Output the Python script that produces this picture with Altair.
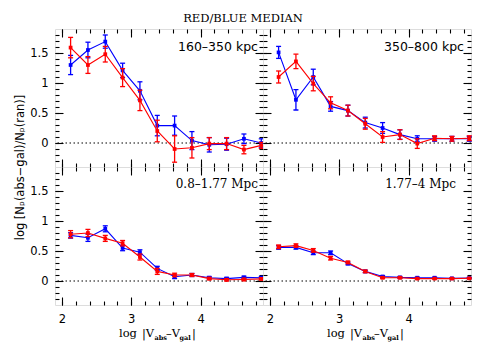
import altair as alt
import pandas as pd

# ---------------- data ----------------
X = [2.125, 2.375, 2.625, 2.875, 3.125, 3.375, 3.625, 3.875, 4.125, 4.375, 4.625, 4.875]

LABELS = ["160–350 kpc", "350–800 kpc", "0.8–1.77 Mpc", "1.77–4 Mpc"]

blue_160 = [1.30, 1.55, 1.69, 1.21, 0.87, 0.29, 0.29, 0.04, -0.03, -0.02, 0.07, 0.00]
blue_160_err = [0.16, 0.13, 0.11, 0.12, 0.15, 0.17, 0.16, 0.15, 0.12, 0.10, 0.08, 0.07]
red_160 = [1.59, 1.30, 1.48, 1.09, 0.71, 0.20, -0.10, -0.08, -0.01, -0.01, -0.11, -0.04]
red_160_err = [0.17, 0.14, 0.13, 0.15, 0.17, 0.18, 0.22, 0.17, 0.10, 0.10, 0.07, 0.05]

blue_350 = [1.51, 0.72, 1.10, 0.61, 0.54, 0.34, 0.25, 0.14, 0.07, 0.07, 0.07, 0.07]
blue_350_err = [0.10, 0.17, 0.13, 0.08, 0.09, 0.09, 0.09, 0.08, 0.05, 0.04, 0.04, 0.04]
red_350 = [1.10, 1.36, 0.99, 0.67, 0.54, 0.32, 0.10, 0.14, -0.01, 0.08, 0.07, 0.08]
red_350_err = [0.10, 0.12, 0.12, 0.10, 0.09, 0.09, 0.09, 0.08, 0.08, 0.04, 0.04, 0.04]

blue_08 = [0.76, 0.72, 0.87, 0.55, 0.48, 0.21, 0.07, 0.10, 0.055, 0.04, 0.06, 0.055]
blue_08_err = [0.045, 0.06, 0.05, 0.045, 0.04, 0.035, 0.03, 0.025, 0.02, 0.02, 0.02, 0.02]
red_08 = [0.78, 0.80, 0.71, 0.63, 0.40, 0.16, 0.10, 0.10, 0.04, 0.02, 0.025, 0.035]
red_08_err = [0.06, 0.06, 0.05, 0.045, 0.05, 0.05, 0.03, 0.025, 0.02, 0.02, 0.02, 0.02]

blue_177 = [0.56, 0.56, 0.47, 0.47, 0.29, 0.16, 0.075, 0.06, 0.055, 0.055, 0.045, 0.05]
blue_177_err = [0.03, 0.03, 0.03, 0.03, 0.02, 0.02, 0.015, 0.015, 0.01, 0.01, 0.01, 0.01]
red_177 = [0.57, 0.59, 0.51, 0.38, 0.31, 0.16, 0.055, 0.055, 0.04, 0.04, 0.04, 0.045]
red_177_err = [0.03, 0.03, 0.03, 0.03, 0.02, 0.02, 0.015, 0.015, 0.01, 0.01, 0.01, 0.01]

X_MAJOR = [2, 3, 4]
X_MINOR = [2.0, 2.2, 2.4, 2.6, 2.8, 3.0, 3.2, 3.4, 3.6, 3.8, 4.0, 4.2, 4.4, 4.6, 4.8]
Y_MAJOR = [0, 0.5, 1, 1.5]
Y_MINOR = [-0.3, -0.2, -0.1, 0.0, 0.1, 0.2, 0.3, 0.4, 0.5, 0.6, 0.7, 0.8, 0.9,
           1.0, 1.1, 1.2, 1.3, 1.4, 1.5, 1.6, 1.7, 1.8]

TITLE = "RED/BLUE MEDIAN"
Y_TITLE = "log [Nₚ(abs−gal)/Nₚ(ran)]"

# ---------------- layout / style ----------------
W, H = 208, 138
XDOM = [1.9, 4.9]
YDOM = [-0.4, 1.9]
SANS = "DejaVu Sans"
SERIF = "DejaVu Serif"
COLORS = {"blue": "#0000ff", "red": "#ff0000"}

xs = alt.Scale(domain=XDOM, nice=False, zero=False)
ys = alt.Scale(domain=YDOM, nice=False, zero=False)


def frame(blue, blue_err, red, red_err):
    rows = []
    for s, vals, errs in (("blue", blue, blue_err), ("red", red, red_err)):
        for x, y, e in zip(X, vals, errs):
            rows.append({"x": x, "y": y, "err": e, "s": s})
    return pd.DataFrame(rows)


def tick_axis(orient, values, size, offset):
    return alt.Axis(orient=orient, values=values, offset=offset, labels=False,
                    domain=False, ticks=True, tickSize=size, tickColor="black",
                    tickWidth=1.1, grid=False, title=None)


def txt(t, x, y, font, size, align="left", weight="normal"):
    return alt.Chart(alt.Data(values=[{"t": t}])).mark_text(
        align=align, baseline="alphabetic", font=font, fontSize=size,
        fontWeight=weight, color="black"
    ).encode(text="t:N", x=alt.value(x), y=alt.value(y))


def panel(df, label, lab_font, lab_size, lab_right, lab_base, left, bottom, ytitle=False):
    base = alt.Chart(df)

    def ghost(xaxis, yaxis):
        return base.mark_point(opacity=0).encode(
            x=alt.X("x:Q", scale=xs, axis=xaxis),
            y=alt.Y("y:Q", scale=ys, axis=yaxis))

    if bottom:
        xl = alt.Axis(orient="bottom", values=X_MAJOR, ticks=False, tickSize=0,
                      domain=False, grid=False, labelPadding=8, labelFont=SANS,
                      labelFontSize=11.5, labelColor="black", format="d", title=None)
    else:
        xl = None
    if left:
        yargs = dict(orient="left", values=Y_MAJOR, ticks=False, tickSize=0,
                     domain=False, grid=False, labelPadding=7, labelFont=SANS,
                     labelFontSize=11.5, labelColor="black", format=".1~f")
        if ytitle:
            yl = alt.Axis(title=Y_TITLE, titleX=-32, titleY=H, titleAngle=270,
                          titleAlign="center", titleBaseline="alphabetic",
                          titleFont=SANS, titleFontSize=11.5, titleFontWeight="normal",
                          titleColor="black", **yargs)
        else:
            yl = alt.Axis(title=None, **yargs)
    else:
        yl = None

    layers = [
        ghost(xl, yl),
        ghost(tick_axis("top", X_MAJOR, 8, -H), tick_axis("right", Y_MAJOR, 8, -W)),
        ghost(tick_axis("top", X_MINOR, 4, -H), tick_axis("right", Y_MINOR, 4, -W)),
        ghost(tick_axis("bottom", X_MAJOR, 8, -H), tick_axis("left", Y_MAJOR, 8, -W)),
        ghost(tick_axis("bottom", X_MINOR, 4, -H), tick_axis("left", Y_MINOR, 4, -W)),
    ]

    zero = alt.Chart(alt.Data(values=[{"z": 0}])).mark_rule(
        color="black", strokeWidth=1, strokeDash=[1.5, 2.5]
    ).encode(y=alt.Y("z:Q", scale=ys, axis=None))
    layers.append(zero)

    for s in ("blue", "red"):
        c = COLORS[s]
        sub = base.transform_filter(alt.datum.s == s).transform_calculate(
            lo="datum.y - datum.err", hi="datum.y + datum.err")
        ex = alt.X("x:Q", scale=xs, axis=None)
        layers.append(sub.mark_line(color=c, strokeWidth=1.1).encode(
            x=ex, y=alt.Y("y:Q", scale=ys, axis=None)))
        layers.append(sub.mark_rule(color=c, strokeWidth=1.3).encode(
            x=ex, y=alt.Y("lo:Q", scale=ys, axis=None), y2="hi:Q"))
        for f in ("lo", "hi"):
            layers.append(sub.mark_tick(color=c, orient="horizontal", size=5,
                                        thickness=1.3, opacity=1).encode(
                x=ex, y=alt.Y(f"{f}:Q", scale=ys, axis=None)))
        layers.append(sub.mark_square(color=c, size=14, opacity=1).encode(
            x=ex, y=alt.Y("y:Q", scale=ys, axis=None)))

    layers.append(txt(label, lab_right, lab_base, lab_font, lab_size, align="right"))

    if bottom:
        yb, ysub = H + 32, H + 35
        layers += [
            txt("log", 64, yb, SERIF, 11.5),
            txt("|V", 87, yb, SERIF, 11.5),
            txt("abs", 99.5, ysub, SERIF, 6.5, weight="bold"),
            txt("–V", 111, yb, SERIF, 11.5),
            txt("gal", 124.5, ysub, SERIF, 6.5, weight="bold"),
            txt("|", 137, yb, SERIF, 11.5),
        ]

    return alt.layer(*layers).resolve_scale(x="shared", y="shared").resolve_axis(
        x="independent", y="independent").properties(width=W, height=H)


tl = panel(frame(blue_160, blue_160_err, red_160, red_160_err), LABELS[0], SANS, 12.5,
           W - 5, 22, left=True, bottom=False, ytitle=True)
tr = panel(frame(blue_350, blue_350_err, red_350, red_350_err), LABELS[1], SANS, 12.5,
           W - 7, 22, left=False, bottom=False)
bl = panel(frame(blue_08, blue_08_err, red_08, red_08_err), LABELS[2], SERIF, 12,
           W - 5, 21, left=True, bottom=True)
br = panel(frame(blue_177, blue_177_err, red_177, red_177_err), LABELS[3], SERIF, 12,
           W - 15, 21, left=False, bottom=True)

chart = alt.concat(tl, tr, bl, br, columns=2, spacing=0, bounds="flush").properties(
    title=alt.TitleParams(TITLE, font=SERIF, fontSize=11.5, fontWeight="normal",
                          anchor="middle", offset=3, color="black")
).configure_view(stroke="black", strokeWidth=1.5).configure(background="white")

chart.save("out.html", embed_options={"renderer": "svg", "actions": False})
